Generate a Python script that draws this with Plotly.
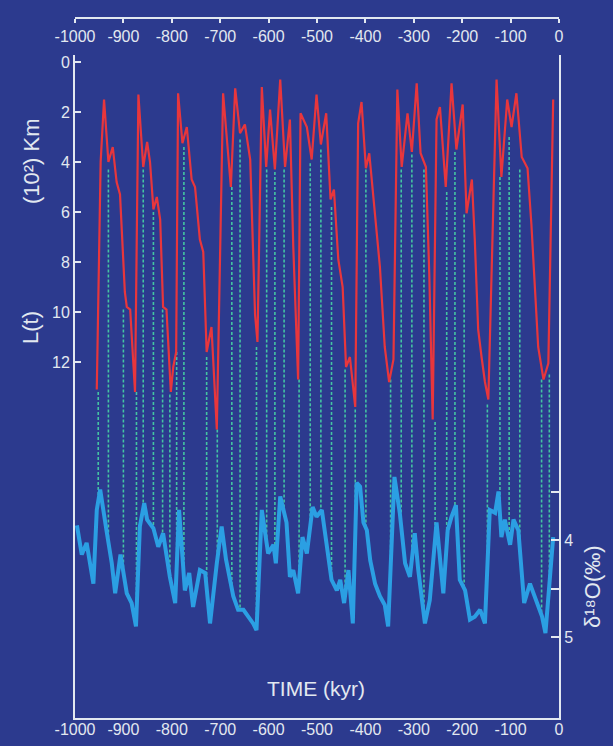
import plotly.graph_objects as go

# ---------------- data ----------------
# Ice-sheet extent L(t), in 10^2 km
red_t = [-955, -947, -940, -931, -922, -914, -907, -897, -893, -886, -876,
         -869, -859, -851, -845, -838, -831, -824, -818, -811, -802, -797, -791,
         -787, -778, -769, -759, -752, -742, -735, -728, -718, -707,
         -694, -678, -669, -659, -649, -638, -628, -623,
         -614, -605, -597, -587, -576, -566, -556, -549, -539,
         -534, -521, -511, -501, -492, -481, -472, -465, -456, -447, -440, -432, -421,
         -415, -408, -399, -392, -380, -370, -360, -351, -342,
         -334, -325, -313, -304, -294, -286, -275, -268, -261,
         -253, -246, -234, -222, -212, -199, -191, -180, -174, -167, -160, -153, -146,
         -129, -119, -107, -98, -88, -77, -65, -57, -50, -43, -32, -22, -12]
red_L = [13.1, 4.0, 1.5, 4.0, 3.4, 4.8, 5.3, 9.2, 9.8, 9.9, 13.2,
         1.3, 4.2, 3.2, 4.0, 5.9, 5.4, 6.3, 9.8, 9.9, 13.2, 12.2, 11.6,
         1.25, 3.25, 2.6, 4.7, 5.0, 7.1, 7.6, 11.6, 10.6, 14.7,
         1.25, 5.0, 1.05, 2.85, 2.5, 3.9, 10.1, 11.2,
         1.0, 4.2, 1.9, 4.3, 0.7, 4.2, 2.3, 7.4, 12.7,
         2.05, 2.6, 3.9, 1.3, 3.3, 2.05, 5.5, 5.1, 7.9, 9.0, 12.2, 11.8, 13.8,
         2.45, 1.6, 4.25, 3.65, 6.3, 8.2, 11.4, 12.8, 11.9,
         1.1, 4.2, 2.05, 3.6, 0.85, 3.65, 4.2, 8.5, 14.3,
         2.3, 1.8, 5.0, 0.85, 3.5, 1.7, 6.05, 4.7, 7.1, 10.7, 11.8, 12.8, 13.5,
         0.7, 4.6, 1.5, 2.6, 1.25, 3.8, 4.25, 6.5, 9.0, 11.4, 12.7, 12.05, 1.5]

# Benthic delta 18O (per mil)
blue_t = [-996, -986, -976, -962, -955, -948, -935, -924, -917, -906, -893, -883, -874,
          -866, -857, -851, -838, -828, -818, -804, -793, -785, -773, -764, -756,
          -742, -731, -721, -707, -697, -688, -673, -663, -652, -642, -632, -625,
          -614, -601, -590, -585, -576, -563, -556, -549, -539, -530, -521,
          -509, -501, -490, -470, -459, -452, -444, -435, -426,
          -418, -411, -404, -397, -390, -380, -370, -360, -353,
          -340, -329, -318, -308, -298, -291, -277, -267, -253, -239, -230, -222, -213,
          -205, -194, -184, -174, -163, -153, -143, -132, -125, -119, -112, -101,
          -94, -84, -72, -60, -46, -35, -28, -12]
blue_d = [3.85, 4.15, 4.03, 4.45, 3.69, 3.48, 3.9, 4.24, 4.55, 4.15, 4.55, 4.65, 4.89,
          3.86, 3.62, 3.79, 3.88, 4.07, 3.93, 4.38, 4.65, 3.69, 4.52, 4.34, 4.69,
          4.31, 4.34, 4.86, 4.24, 3.86, 4.2, 4.58, 4.72, 4.72, 4.79, 4.86, 4.93,
          3.69, 4.14, 4.05, 4.24, 3.55, 3.82, 4.38, 4.31, 4.55, 3.97, 4.14,
          3.66, 3.76, 3.69, 4.41, 4.52, 4.41, 4.65, 4.31, 4.86,
          3.41, 3.45, 3.82, 3.9, 4.21, 4.45, 4.58, 4.67, 4.89,
          3.35, 3.72, 4.24, 4.38, 3.93, 4.3, 4.86, 4.62, 3.82, 4.55, 3.9, 3.76, 3.64,
          4.41, 4.52, 4.82, 4.79, 4.72, 4.86, 3.69, 3.72, 3.5, 3.97, 3.79, 4.05,
          3.79, 3.9, 4.65, 4.45, 4.65, 4.79, 4.96, 3.97]

# Correlation tie lines (time, starting L value)
tie_t = [-952, -931, -900, -873, -859, -838, -819, -804, -790, -775, -728, -706,
         -676, -659, -625, -604, -587, -568, -537, -514, -492, -470, -442, -421,
         -399, -348, -326, -304, -279, -256, -232, -215, -196, -148, -122, -103,
         -81, -36, -20]
tie_L = [13.2, 4.3, 9.9, 13.2, 4.3, 6.0, 9.9, 13.3, 11.6, 3.4, 11.8, 14.7,
         5.0, 3.1, 11.4, 4.3, 4.4, 4.3, 12.7, 4.05, 3.5, 5.8, 12.3, 13.9,
         4.3, 12.7, 4.3, 3.7, 4.3, 14.4, 5.2, 3.6, 6.1, 13.7, 4.6, 3.0,
         4.3, 12.7, 12.5]

x_ticks = [-1000, -900, -800, -700, -600, -500, -400, -300, -200, -100, 0]
x_labels = ["-1000", "-900", "-800", "-700", "-600", "-500", "-400", "-300", "-200", "-100", "0"]
L_ticks = [0, 2, 4, 6, 8, 10, 12]
d_ticks = [3.5, 4, 4.5, 5]
d_labels = ["", "4", "", "5"]

# ---------------- style ----------------
BG = "#2c3a8e"
FG = "#e2e8f0"
RED = "#e8363c"
BLUE = "#2b9fe3"
TIE = "#44c4a2"
FONT = "Liberation Sans, Arial, sans-serif"

W, H = 613, 746
L_range = [26.24, -0.28]
d_range = [5.835, -1.0]

fig = go.Figure()

# tie lines (drawn down to the bottom of the L axis; hidden below the blue curve by the mask)
tx, ty = [], []
for t, l in zip(tie_t, tie_L):
    tx += [t, t, None]
    ty += [l, L_range[0], None]
fig.add_trace(go.Scatter(x=tx, y=ty, mode="lines", xaxis="x", yaxis="y",
                         line=dict(color=TIE, width=1.6, dash="3px,2px"),
                         hoverinfo="skip", showlegend=False))

# red curve on the top time axis (same range) so that axis is drawn
fig.add_trace(go.Scatter(x=red_t, y=red_L, mode="lines", xaxis="x2", yaxis="y",
                         line=dict(color=RED, width=2.2), showlegend=False))

# mask below the blue curve
fig.add_trace(go.Scatter(x=blue_t + [blue_t[-1], blue_t[0]],
                         y=blue_d + [d_range[0], d_range[0]],
                         mode="lines", fill="toself", fillcolor=BG,
                         line=dict(width=0, color=BG), xaxis="x", yaxis="y2",
                         hoverinfo="skip", showlegend=False))

fig.add_trace(go.Scatter(x=blue_t, y=blue_d, mode="lines", xaxis="x", yaxis="y2",
                         line=dict(color=BLUE, width=4), showlegend=False))

dom_x = [75 / W, 559 / W]
dom_y = [(H - 718) / H, (H - 55) / H]

axis_font = dict(family=FONT, size=16, color=FG)

fig.update_layout(
    width=W, height=H,
    margin=dict(l=0, r=0, t=0, b=0),
    paper_bgcolor=BG, plot_bgcolor=BG,
    showlegend=False,
    font=dict(family=FONT, color=FG),
    xaxis=dict(domain=dom_x, range=[-1000, 0], anchor="y", automargin=False,
               tickvals=x_ticks, ticktext=x_labels, ticks="",
               showline=True, linecolor=FG, linewidth=2, mirror=False,
               showgrid=False, zeroline=False, tickfont=axis_font,
               ticklabelstandoff=-4),
    xaxis2=dict(overlaying="x", range=[-1000, 0], anchor="free", automargin=False,
                position=(H - 18) / H, side="bottom",
                tickvals=x_ticks, ticktext=x_labels,
                ticks="outside", ticklen=4, tickwidth=2, tickcolor=FG,
                showline=True, linecolor=FG, linewidth=2,
                showgrid=False, zeroline=False, tickfont=axis_font),
    yaxis=dict(domain=dom_y, range=L_range, anchor="x", automargin=False,
               tickvals=L_ticks, ticks="inside", ticklen=6, tickwidth=1.5,
               tickcolor=FG, showline=True, linecolor=FG, linewidth=2,
               showgrid=False, zeroline=False, tickfont=axis_font),
    yaxis2=dict(overlaying="y", side="right", anchor="x", range=d_range, automargin=False,
                tickvals=d_ticks, ticktext=d_labels, ticks="inside",
                ticklen=8, tickwidth=1.5, tickcolor=FG,
                showline=True, linecolor=FG, linewidth=2,
                showgrid=False, zeroline=False, tickfont=axis_font),
    annotations=[
        dict(text="TIME (kyr)", x=316 / W, y=(H - 688) / H, xref="paper", yref="paper",
             xanchor="center", yanchor="middle",
             showarrow=False, font=dict(family=FONT, size=21, color=FG)),
        dict(text="(10²) Km", x=31 / W, y=(H - 161) / H, xref="paper", yref="paper",
             xanchor="center", yanchor="middle",
             showarrow=False, textangle=-90, font=dict(family=FONT, size=22, color=FG)),
        dict(text="L(t)", x=31 / W, y=(H - 328) / H, xref="paper", yref="paper",
             xanchor="center", yanchor="middle",
             showarrow=False, textangle=-90, font=dict(family=FONT, size=22, color=FG)),
        dict(text="δ¹⁸O(‰)", x=592 / W, y=(H - 587) / H, xref="paper", yref="paper",
             xanchor="center", yanchor="middle",
             showarrow=False, textangle=-90, font=dict(family=FONT, size=22, color=FG)),
    ],
)

fig.write_html("out.html")
